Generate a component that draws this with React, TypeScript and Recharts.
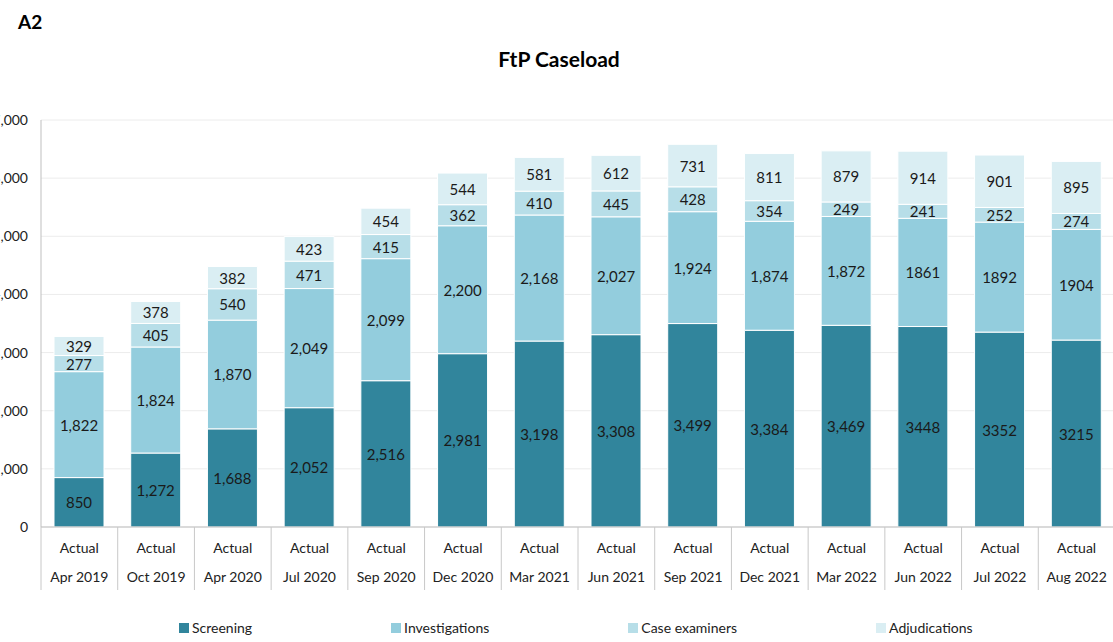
import React from 'react';
import { BarChart, Bar, XAxis, YAxis, CartesianGrid, Legend, LabelList } from 'recharts';

const periods = [
  'Apr 2019', 'Oct 2019', 'Apr 2020', 'Jul 2020', 'Sep 2020', 'Dec 2020', 'Mar 2021',
  'Jun 2021', 'Sep 2021', 'Dec 2021', 'Mar 2022', 'Jun 2022', 'Jul 2022', 'Aug 2022',
];
const periodType = 'Actual';

const screening = [850, 1272, 1688, 2052, 2516, 2981, 3198, 3308, 3499, 3384, 3469, 3448, 3352, 3215];
const investigations = [1822, 1824, 1870, 2049, 2099, 2200, 2168, 2027, 1924, 1874, 1872, 1861, 1892, 1904];
const caseExaminers = [277, 405, 540, 471, 415, 362, 410, 445, 428, 354, 249, 241, 252, 274];
const adjudications = [329, 378, 382, 423, 454, 544, 581, 612, 731, 811, 879, 914, 901, 895];

// the last three months were reported without thousands separators
const useCommas = [true, true, true, true, true, true, true, true, true, true, true, false, false, false];

const yTicks = [0, 1000, 2000, 3000, 4000, 5000, 6000, 7000];

const seriesList = [
  { key: 'screening', name: 'Screening', color: '#31859c' },
  { key: 'investigations', name: 'Investigations', color: '#93cddd' },
  { key: 'caseExaminers', name: 'Case examiners', color: '#b7dee8' },
  { key: 'adjudications', name: 'Adjudications', color: '#daeef3' },
];

const data = periods.map((period, i) => ({
  period,
  screening: screening[i],
  investigations: investigations[i],
  caseExaminers: caseExaminers[i],
  adjudications: adjudications[i],
}));

const FONT = 'Lato, "Open Sans", sans-serif';
const CHART_W = 1160;
const PLOT_LEFT = 61;
const PLOT_RIGHT_MARGIN = 25;
const BAND = (CHART_W - PLOT_LEFT - PLOT_RIGHT_MARGIN) / periods.length;

const formatNum = (v: number, commas: boolean) => (commas ? v.toLocaleString('en-US') : String(v));

const renderSegmentLabel = (props: any) => {
  const { x, y, width, height, value, index } = props;
  return (
    <text
      x={x + width / 2}
      y={y + height / 2}
      textAnchor="middle"
      dominantBaseline="central"
      fontSize={15}
      fontFamily={FONT}
      fill="#1a1a1a"
    >
      {formatNum(value, useCommas[index])}
    </text>
  );
};

const CategoryTick = (props: any) => {
  const { x, y, payload, index } = props;
  const left = x - BAND / 2;
  const right = x + BAND / 2;
  return (
    <g>
      <line x1={left} y1={y} x2={left} y2={y + 63} stroke="#c8c8c8" />
      {index === periods.length - 1 && <line x1={right} y1={y} x2={right} y2={y + 63} stroke="#c8c8c8" />}
      <text x={x} y={y + 26} textAnchor="middle" fontSize={14} fontFamily={FONT} fill="#222">
        {periodType}
      </text>
      <text x={x} y={y + 55} textAnchor="middle" fontSize={14} fontFamily={FONT} fill="#222">
        {payload.value}
      </text>
    </g>
  );
};

const renderLegend = () => (
  <div style={{ display: 'flex', paddingLeft: 199, fontFamily: FONT, fontSize: 14, color: '#222' }}>
    {seriesList.map((s) => (
      <div key={s.key} style={{ display: 'flex', alignItems: 'center', marginRight: 139 }}>
        <span style={{ width: 10, height: 10, background: s.color, marginRight: 3, display: 'inline-block' }} />
        <span>{s.name}</span>
      </div>
    ))}
  </div>
);

export default function App() {
  return (
    <div
      style={{
        position: 'absolute',
        left: 0,
        top: 0,
        width: 1113,
        height: 642,
        overflow: 'hidden',
        background: '#fff',
        fontFamily: FONT,
      }}
    >
      <div style={{ position: 'absolute', left: 18, top: 10, fontSize: 19, fontWeight: 700, color: '#000' }}>A2</div>
      <div
        style={{
          position: 'absolute',
          left: 0,
          width: 1118,
          top: 46,
          textAlign: 'center',
          fontSize: 21,
          fontWeight: 700,
          color: '#000',
        }}
      >
        FtP Caseload
      </div>
      <div style={{ position: 'absolute', left: -20, top: 0 }}>
        <BarChart
          width={CHART_W}
          height={642}
          data={data}
          margin={{ top: 120, right: PLOT_RIGHT_MARGIN, bottom: 0, left: 0 }}
          barSize={50}
        >
          <CartesianGrid vertical={false} stroke="#ececec" />
          <XAxis
            dataKey="period"
            interval={0}
            height={98}
            axisLine={{ stroke: '#bfbfbf' }}
            tickLine={false}
            tickSize={0}
            tickMargin={0}
            tick={<CategoryTick />}
          />
          <YAxis
            width={PLOT_LEFT}
            domain={[0, 7000]}
            ticks={yTicks}
            tickFormatter={(v: number) => v.toLocaleString('en-US')}
            axisLine={{ stroke: '#bfbfbf' }}
            tickLine={false}
            tickSize={0}
            tickMargin={13}
            tick={{ fontSize: 14, fontFamily: FONT, fill: '#222' }}
          />
          <Legend
            content={renderLegend}
            wrapperStyle={{ left: 0, top: 619, width: CHART_W }}
          />
          {seriesList.map((s) => (
            <Bar
              key={s.key}
              dataKey={s.key}
              name={s.name}
              stackId="total"
              fill={s.color}
              stroke="#ffffff"
              strokeWidth={1}
              isAnimationActive={false}
            >
              <LabelList dataKey={s.key} content={renderSegmentLabel} />
            </Bar>
          ))}
        </BarChart>
      </div>
    </div>
  );
}
